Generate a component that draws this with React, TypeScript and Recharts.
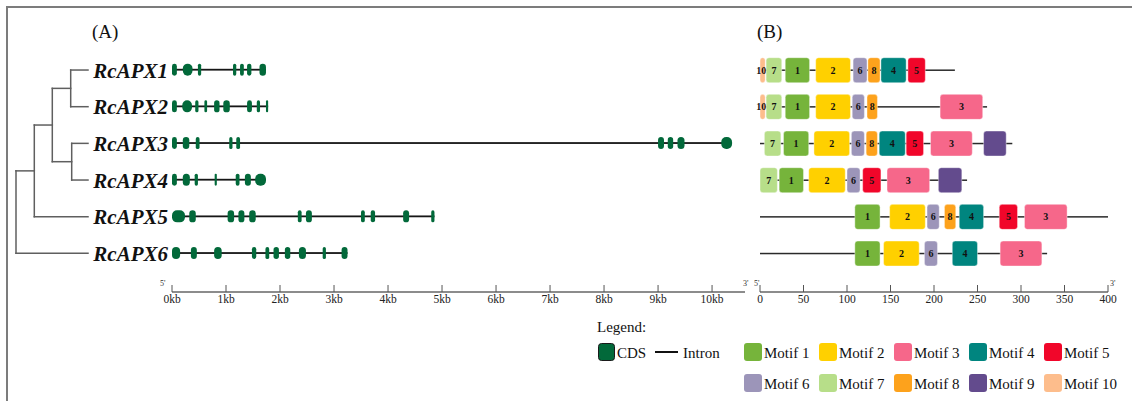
import {
  ComposedChart,
  Bar,
  Scatter,
  XAxis,
  YAxis,
} from 'recharts';

const FONT = '"Liberation Serif", "Times New Roman", Times, serif';
const WIDTH = 1132;
const HEIGHT = 401;

// every panel shares the same rows, one per gene
const PLOT_TOP = 51.7;
const AXIS_Y = 292;
const ROW_PAD = 20.3; // gap between the last row and the scale bar
const AXIS_H = 30;

const GENES = ['RcAPX1', 'RcAPX2', 'RcAPX3', 'RcAPX4', 'RcAPX5', 'RcAPX6'];

// (A) gene structure, in kb
const GENE_LENGTH = [1.74, 1.78, 10.37, 1.74, 4.86, 3.25];
const EXONS: [number, number][][] = [
  [[0, 0.09], [0.2, 0.38], [0.48, 0.54], [1.13, 1.19], [1.26, 1.33], [1.39, 1.47], [1.62, 1.74]],
  [[0, 0.09], [0.19, 0.37], [0.43, 0.49], [0.6, 0.65], [0.78, 0.88], [0.95, 1.07], [1.39, 1.48], [1.57, 1.63], [1.74, 1.78]],
  [[0, 0.09], [0.2, 0.32], [0.44, 0.51], [1.06, 1.12], [1.19, 1.26], [9.0, 9.11], [9.18, 9.28], [9.36, 9.49], [10.17, 10.37]],
  [[0, 0.09], [0.2, 0.33], [0.42, 0.48], [0.79, 0.83], [1.18, 1.25], [1.35, 1.46], [1.54, 1.74]],
  [[0, 0.24], [0.32, 0.44], [1.03, 1.15], [1.23, 1.34], [1.43, 1.55], [2.33, 2.4], [2.48, 2.59], [3.5, 3.57], [3.68, 3.76], [4.28, 4.39], [4.8, 4.86]],
  [[0, 0.15], [0.35, 0.46], [0.78, 0.92], [1.48, 1.56], [1.73, 1.8], [1.88, 1.98], [2.09, 2.19], [2.35, 2.48], [2.79, 2.85], [3.14, 3.25]],
];
const KB_MAX = 10.61;
const KB_TICKS = [0, 1, 2, 3, 4, 5, 6, 7, 8, 9, 10];

// (B) conserved motifs, in amino acids: [motif, start, end]
const PROTEIN_LENGTH = [224, 261, 290, 238, 400, 330];
const MOTIFS: [number, number, number][][] = [
  [[10, 0, 6], [7, 7, 25], [1, 29, 57], [2, 64, 104], [6, 107, 123], [8, 124, 138], [4, 139, 168], [5, 170, 190]],
  [[10, 0, 6], [7, 7, 25], [1, 29, 57], [2, 64, 104], [6, 106, 120], [8, 123, 135], [3, 207, 256]],
  [[7, 5, 24], [1, 27, 56], [2, 62, 103], [6, 105, 120], [8, 122, 135], [4, 137, 167], [5, 168, 188], [3, 196, 244], [9, 257, 283]],
  [[7, 0, 20], [1, 22, 50], [2, 56, 98], [6, 100, 115], [5, 118, 139], [3, 146, 195], [9, 205, 232]],
  [[1, 109, 138], [2, 149, 190], [6, 192, 206], [8, 212, 225], [4, 229, 257], [5, 275, 296], [3, 304, 353]],
  [[1, 109, 138], [2, 142, 183], [6, 189, 204], [4, 221, 250], [3, 276, 324]],
];
const AA_TICKS = [0, 50, 100, 150, 200, 250, 300, 350, 400];

const MOTIF_NAMES = ['Motif 1', 'Motif 2', 'Motif 3', 'Motif 4', 'Motif 5', 'Motif 6', 'Motif 7', 'Motif 8', 'Motif 9', 'Motif 10'];
const MOTIF_COLORS = ['#76b43b', '#ffd000', '#f6678a', '#00857f', '#f1062a', '#9c95b9', '#b7de89', '#fda21c', '#634b8d', '#fdbd8c'];
const EXON_COLOR = '#02693a';

// neighbour-joining tree; leaves are row numbers (1 = RcAPX1)
type TreeNode = { depth: number; children: (TreeNode | number)[] };
const TREE: TreeNode = {
  depth: 0,
  children: [
    {
      depth: 18.3,
      children: [
        {
          depth: 36.3,
          children: [
            { depth: 54.7, children: [1, 2] },
            { depth: 55.7, children: [3, 4] },
          ],
        },
        5,
      ],
    },
    6,
  ],
};
const LEAF_DEPTH = 72;

type Pt = { x: number; y: number };

function layoutTree(node: TreeNode, out: Pt[][]): number {
  const ys = node.children.map((c) => {
    const y = typeof c === 'number' ? c : layoutTree(c, out);
    const d = typeof c === 'number' ? LEAF_DEPTH : c.depth;
    out.push([{ x: node.depth, y }, { x: d, y }]);
    return y;
  });
  out.push([{ x: node.depth, y: Math.min(...ys) }, { x: node.depth, y: Math.max(...ys) }]);
  return ys.reduce((a, b) => a + b, 0) / ys.length;
}

const treeSegments: Pt[][] = [];
layoutTree(TREE, treeSegments);

const geneRows = GENES.map((name, g) => ({ name, span: [0, GENE_LENGTH[g]], exons: EXONS[g] }));
const proteinRows = GENES.map((name, p) => ({ name, span: [0, PROTEIN_LENGTH[p]], motifs: MOTIFS[p] }));
const maxExons = Math.max(...EXONS.map((e) => e.length));
const maxMotifs = Math.max(...MOTIFS.map((m) => m.length));

const GeneTick = ({ x, y, payload }: any) => (
  <text
    x={x}
    y={y}
    dy="0.36em"
    textAnchor="end"
    fontFamily={FONT}
    fontSize={21}
    fontWeight="bold"
    fontStyle="italic"
    fill="#111"
  >
    {payload.value}
  </text>
);

const scaleTick = (unit: string) => (props: any) => (
  <g>
    <line x1={props.x} x2={props.x} y1={AXIS_Y - 7} y2={AXIS_Y} stroke="#555" strokeWidth={1} />
    <text x={props.x} y={AXIS_Y + 11} textAnchor="middle" fontFamily={FONT} fontSize={11.5} fill="#222">
      {`${props.payload.value}${unit}`}
    </text>
  </g>
);

const ok = (p: any) => Number.isFinite(p.width) && Number.isFinite(p.x) && p.width > 0;

// thin backbone through the middle of the bar slot
const lineShape = (color: string, thickness: number) => (p: any) =>
  ok(p) ? (
    <rect x={p.x} y={p.y + p.height / 2 - thickness / 2} width={p.width} height={thickness} fill={color} />
  ) : (
    <g />
  );

const exonShape = (p: any) => {
  if (!ok(p)) return <g />;
  const r = Math.min(5, p.width / 2, p.height / 2);
  return <rect x={p.x} y={p.y} width={p.width} height={p.height} rx={r} ry={r} fill={EXON_COLOR} />;
};

const motifShape = (slot: number) => (p: any) => {
  const hit = p.payload?.motifs?.[slot];
  if (!hit || !ok(p)) return <g />;
  const motif = hit[0];
  // a box narrower than its number gets the number hung off its right edge
  const narrow = p.width < 10;
  return (
    <g>
      <rect
        x={p.x}
        y={p.y}
        width={p.width}
        height={p.height}
        rx={3}
        ry={3}
        fill={MOTIF_COLORS[motif - 1]}
        stroke="#ffffff"
        strokeOpacity={0.5}
        strokeWidth={0.8}
      />
      {motif !== 9 && (
        <text
          x={narrow ? p.x + p.width + 1 : p.x + p.width / 2}
          y={p.y + p.height / 2}
          dy="0.35em"
          textAnchor={narrow ? 'end' : 'middle'}
          fontFamily={FONT}
          fontSize={10}
          fontWeight="bold"
          fill="#111"
        >
          {motif}
        </text>
      )}
    </g>
  );
};

function TreeChart() {
  return (
    <ComposedChart
      width={WIDTH}
      height={HEIGHT}
      margin={{ top: PLOT_TOP, bottom: HEIGHT - AXIS_Y, left: 16, right: WIDTH - 88 }}
    >
      <XAxis type="number" dataKey="x" domain={[0, LEAF_DEPTH]} hide />
      <YAxis type="number" dataKey="y" domain={[0.5, 6.5 + ROW_PAD / 36.67]} reversed hide />
      {treeSegments.map((seg, i) => (
        <Scatter
          key={i}
          data={seg}
          line={{ stroke: '#5f5f5f', strokeWidth: 1.5, strokeLinecap: 'square' }}
          shape={() => <g />}
          isAnimationActive={false}
        />
      ))}
    </ComposedChart>
  );
}

function GeneChart() {
  return (
    <ComposedChart
      layout="vertical"
      data={geneRows}
      width={WIDTH}
      height={HEIGHT}
      barGap={-12}
      margin={{ top: PLOT_TOP, bottom: HEIGHT - AXIS_Y - AXIS_H, left: 88, right: WIDTH - 745 }}
    >
      <XAxis
        type="number"
        domain={[0, KB_MAX]}
        ticks={KB_TICKS}
        interval={0}
        height={AXIS_H}
        axisLine={{ stroke: '#8c8c8c', strokeWidth: 2 }}
        tickLine={false}
        tickSize={0}
        tickMargin={0}
        tick={scaleTick('kb')}
      />
      <YAxis
        type="category"
        dataKey="name"
        padding={{ top: 0, bottom: ROW_PAD }}
        interval={0}
        width={84}
        axisLine={false}
        tickLine={false}
        tickSize={0}
        tickMargin={4}
        tick={GeneTick}
      />
      <Bar dataKey="span" barSize={12} shape={lineShape('#161616', 1.8)} isAnimationActive={false} />
      {Array.from({ length: maxExons }, (_, i) => (
        <Bar
          key={`exon-${i}`}
          dataKey={(d: any) => d.exons[i] ?? null}
          barSize={12}
          shape={exonShape}
          isAnimationActive={false}
        />
      ))}
    </ComposedChart>
  );
}

function MotifChart() {
  return (
    <ComposedChart
      layout="vertical"
      data={proteinRows}
      width={WIDTH}
      height={HEIGHT}
      barGap={-25}
      margin={{ top: PLOT_TOP, bottom: HEIGHT - AXIS_Y - AXIS_H, left: 760, right: WIDTH - 1108 }}
    >
      <XAxis
        type="number"
        domain={[0, 400]}
        ticks={AA_TICKS}
        interval={0}
        height={AXIS_H}
        axisLine={{ stroke: '#8c8c8c', strokeWidth: 2 }}
        tickLine={false}
        tickSize={0}
        tickMargin={0}
        tick={scaleTick('')}
      />
      <YAxis type="category" dataKey="name" padding={{ top: 0, bottom: ROW_PAD }} width={0} hide />
      <Bar dataKey="span" barSize={25} shape={lineShape('#2a2a2a', 1.5)} isAnimationActive={false} />
      {Array.from({ length: maxMotifs }, (_, i) => (
        <Bar
          key={`motif-${i}`}
          dataKey={(d: any) => (d.motifs[i] ? [d.motifs[i][1], d.motifs[i][2]] : null)}
          barSize={25}
          shape={motifShape(i)}
          isAnimationActive={false}
        />
      ))}
    </ComposedChart>
  );
}

// panel letters, strand ends and the shared legend
function Annotations() {
  const prime = { fontFamily: FONT, fontSize: 8, fill: '#333' };
  const legendText = { fontFamily: FONT, fontSize: 15, fill: '#111' };
  const colX = [744, 819, 894, 969, 1044];
  return (
    <svg width={WIDTH} height={HEIGHT} style={{ position: 'absolute', left: 0, top: 0 }}>
      <text x={92} y={38} fontFamily={FONT} fontSize={19} fill="#111">(A)</text>
      <text x={757} y={38} fontFamily={FONT} fontSize={19} fill="#111">(B)</text>
      <text x={160} y={286} {...prime}>5'</text>
      <text x={743} y={286} {...prime}>3'</text>
      <text x={754} y={286} {...prime}>5'</text>
      <text x={1110} y={286} {...prime}>3'</text>

      <text x={597} y={332} {...legendText}>Legend:</text>
      <rect x={598.5} y={343.5} width={16} height={17} rx={3} fill={EXON_COLOR} stroke="#1a1a1a" strokeWidth={1} />
      <text x={617} y={358} {...legendText}>CDS</text>
      <line x1={655} x2={678} y1={352} y2={352} stroke="#111" strokeWidth={2} />
      <text x={683} y={358} {...legendText}>Intron</text>
      {MOTIF_NAMES.map((name, i) => {
        const x = colX[i % 5];
        const y = i < 5 ? 343 : 374;
        return (
          <g key={name}>
            <rect x={x} y={y} width={18} height={18} rx={3} fill={MOTIF_COLORS[i]} />
            <text x={x + 20} y={y + 15} {...legendText}>{name}</text>
          </g>
        );
      })}
    </svg>
  );
}

const layer = { position: 'absolute' as const, left: 0, top: 0 };

export default function App() {
  return (
    <div
      style={{
        position: 'absolute',
        left: 0,
        top: 0,
        width: WIDTH,
        height: HEIGHT,
        overflow: 'hidden',
        background: '#ffffff',
      }}
    >
      <div
        style={{
          position: 'absolute',
          left: 6,
          top: 6,
          width: WIDTH,
          height: HEIGHT,
          borderTop: '2px solid #7c7c7c',
          borderLeft: '2px solid #7c7c7c',
        }}
      />
      <div style={layer}>
        <TreeChart />
      </div>
      <div style={layer}>
        <GeneChart />
      </div>
      <div style={layer}>
        <MotifChart />
      </div>
      <Annotations />
    </div>
  );
}
